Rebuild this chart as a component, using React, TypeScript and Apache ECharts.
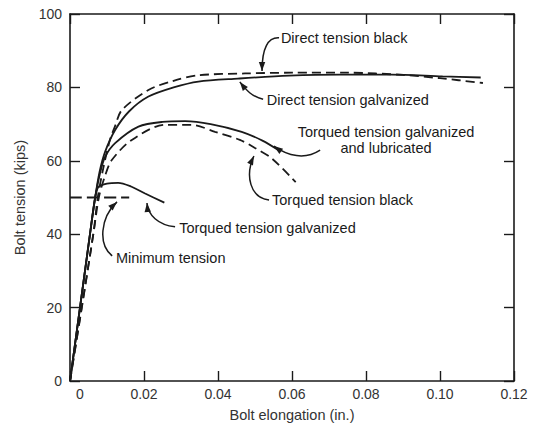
import React, { useEffect, useRef } from "react";
import * as echarts from "echarts";

// Bolt elongation (in.) vs bolt tension (kips)
const directTensionGalvanized: [number, number][] = [
  [0, 0], [0.0054, 40], [0.0068, 50], [0.008, 57], [0.0095, 62.5], [0.0122, 68.4],
  [0.016, 73.5], [0.0212, 77.5], [0.028, 80], [0.0347, 81.6], [0.0454, 82.4],
  [0.0592, 83.2], [0.073, 83.5], [0.0868, 83.5], [0.1007, 83.0], [0.111, 82.7],
];
const directTensionBlack: [number, number][] = [
  [0, 0], [0.0063, 40], [0.0075, 50], [0.009, 58], [0.0108, 65.7], [0.0122, 69.5],
  [0.014, 73.8], [0.0212, 79.3], [0.028, 81.8], [0.0347, 83.3], [0.0473, 83.8],
  [0.06, 84.0], [0.075, 84.0], [0.09, 83.4], [0.1, 82.5], [0.1116, 81.2],
];
const torquedGalvLubricated: [number, number][] = [
  [0, 0], [0.0054, 40], [0.0068, 50], [0.0082, 57], [0.0095, 61.1], [0.0122, 64.8],
  [0.0185, 69.3], [0.025, 70.6], [0.0311, 70.8], [0.038, 70.0], [0.0464, 67.9],
  [0.052, 65.5], [0.0565, 62.8],
];
const torquedBlack: [number, number][] = [
  [0, 0], [0.0063, 40], [0.0078, 50], [0.0095, 56], [0.0113, 60.2], [0.0167, 65.7],
  [0.0257, 69.8], [0.0329, 69.8], [0.0392, 67.9], [0.0459, 65.7], [0.05, 63.5],
  [0.0546, 60.6], [0.061, 54.2],
];
const torquedGalvanized: [number, number][] = [
  [0, 0], [0.0054, 40], [0.0068, 50], [0.0077, 52.9], [0.01, 53.8], [0.013, 54.0],
  [0.0165, 53.0], [0.0203, 51.1], [0.0255, 48.6],
];
const minimumTension: [number, number][] = [[0, 50], [0.016, 50]];

const xMin = 0, xMax = 0.12, xStep = 0.02;
const yMin = 0, yMax = 100, yStep = 20;

// Annotations (data coordinates): text anchor and leader curve (start, cp1, cp2, tip)
type Note = {
  lines: string[];
  at: [number, number];
  align: "left" | "center";
  curve: [number, number][];
};
const notes: Note[] = [
  { lines: ["Direct tension black"], at: [0.057, 93.5], align: "left",
    curve: [[0.0565, 93.5], [0.0535, 93.7], [0.0519, 90.7], [0.0519, 84.5]] },
  { lines: ["Direct tension galvanized"], at: [0.0532, 76.6], align: "left",
    curve: [[0.0522, 76.8], [0.0492, 77.4], [0.0476, 79.3], [0.0459, 81.5]] },
  { lines: ["Torqued tension galvanized", "and lubricated"], at: [0.0854, 65.6], align: "center",
    curve: [[0.0676, 62.9], [0.0635, 60.2], [0.0589, 61.3], [0.0551, 64.0]] },
  { lines: ["Torqued tension black"], at: [0.0546, 49.3], align: "left",
    curve: [[0.0538, 49.3], [0.0486, 49.9], [0.0473, 56.1], [0.0497, 61.3]] },
  { lines: ["Torqued tension galvanized"], at: [0.0295, 41.7], align: "left",
    curve: [[0.0284, 42.0], [0.0238, 42.5], [0.0211, 45.2], [0.0208, 48.5]] },
  { lines: ["Minimum tension"], at: [0.0124, 33.5], align: "left",
    curve: [[0.0114, 34.1], [0.0076, 37.1], [0.0081, 44.4], [0.0127, 48.8]] },
];

const INK = "#1a1a1a";
const FONT = "'Liberation Sans', Arial, sans-serif";

export default function App() {
  const ref = useRef<HTMLDivElement>(null);
  useEffect(() => {
    const chart = echarts.init(ref.current!, null, { renderer: "svg" });
    const axisLine = { show: true, onZero: false, lineStyle: { color: INK, width: 1.6 } };
    const axisTick = { show: true, inside: true, length: 10, lineStyle: { color: INK, width: 1.4 } };
    const solid = (name: string, data: [number, number][]) => ({
      name, type: "line", data, showSymbol: false, symbol: "none", smooth: 0.3,
      lineStyle: { color: INK, width: 1.8, type: "solid" }, z: 3,
    });
    const dashed = (name: string, data: [number, number][], dash: number[] = [9, 5]) => ({
      name, type: "line", data, showSymbol: false, symbol: "none", smooth: 0.3,
      lineStyle: { color: INK, width: 1.8, type: dash }, z: 3,
    });
    chart.setOption({
      animation: false,
      grid: { left: 70, right: 19, top: 14, bottom: 46, containLabel: false },
      xAxis: [
        {
          type: "value", min: xMin, max: xMax, interval: xStep, position: "bottom",
          axisLine, axisTick, splitLine: { show: false },
          axisLabel: {
            fontSize: 14, color: "#333", fontFamily: FONT, margin: 6,
            formatter: (v: number) => (v === 0 ? "{z|0}" : v.toFixed(2)),
            rich: { z: { fontSize: 14, color: "#333", fontFamily: FONT, padding: [0, 0, 0, 20] } },
          },
          name: "Bolt elongation (in.)", nameLocation: "middle", nameGap: 26,
          nameTextStyle: { fontSize: 14.5, color: "#333", fontFamily: FONT },
        },
        {
          type: "value", min: xMin, max: xMax, interval: xStep, position: "top",
          axisLine, axisTick, splitLine: { show: false }, axisLabel: { show: false },
        },
      ],
      yAxis: [
        {
          type: "value", min: yMin, max: yMax, interval: yStep, position: "left",
          axisLine, axisTick, splitLine: { show: false },
          axisLabel: { fontSize: 14, color: "#333", fontFamily: FONT, margin: 8 },
          name: "Bolt tension (kips)", nameLocation: "middle", nameGap: 42,
          nameTextStyle: { fontSize: 14.5, color: "#333", fontFamily: FONT },
        },
        {
          type: "value", min: yMin, max: yMax, interval: yStep, position: "right",
          axisLine, axisTick, splitLine: { show: false }, axisLabel: { show: false },
        },
      ],
      series: [
        solid("Direct tension galvanized", directTensionGalvanized),
        dashed("Direct tension black", directTensionBlack),
        solid("Torqued tension galvanized and lubricated", torquedGalvLubricated),
        dashed("Torqued tension black", torquedBlack),
        solid("Torqued tension galvanized", torquedGalvanized),
        dashed("Minimum tension", minimumTension, [12, 5]),
      ],
    });

    const px = (p: [number, number]) =>
      chart.convertToPixel({ xAxisIndex: 0, yAxisIndex: 0 }, p) as number[];
    const graphics: any[] = [];
    notes.forEach((n) => {
      const a = px(n.at);
      const lh = 16;
      n.lines.forEach((t, i) => {
        graphics.push({
          type: "text", x: a[0], y: a[1] + (i - (n.lines.length - 1) / 2) * lh, z: 10,
          style: {
            text: t, fill: INK, fontSize: 14.5, fontFamily: FONT,
            align: n.align, verticalAlign: "middle",
          },
        });
      });
      const [p0, p1, p2, p3] = n.curve.map(px);
      graphics.push({
        type: "bezierCurve", z: 10,
        shape: { x1: p0[0], y1: p0[1], cpx1: p1[0], cpy1: p1[1], cpx2: p2[0], cpy2: p2[1], x2: p3[0], y2: p3[1] },
        style: { stroke: INK, lineWidth: 1.5, fill: null },
      });
      const dx = p3[0] - p2[0], dy = p3[1] - p2[1];
      const len = Math.hypot(dx, dy) || 1;
      const ux = dx / len, uy = dy / len;
      const L = 9, W = 3.2;
      const bx = p3[0] - ux * L, by = p3[1] - uy * L;
      graphics.push({
        type: "polygon", z: 11,
        shape: { points: [[p3[0], p3[1]], [bx - uy * W, by + ux * W], [bx + uy * W, by - ux * W]] },
        style: { fill: INK },
      });
    });
    chart.setOption({ graphic: graphics });
    return () => chart.dispose();
  }, []);
  return (
    <div
      ref={ref}
      style={{ position: "fixed", left: 0, top: 0, width: 533, height: 427, background: "#fff" }}
    />
  );
}
